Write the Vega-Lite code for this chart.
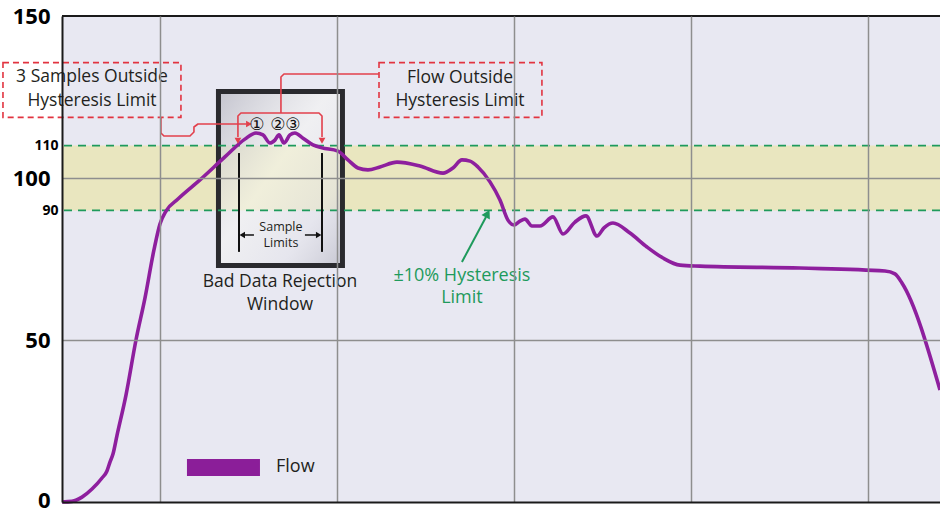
{
  "$schema": "https://vega.github.io/schema/vega-lite/v6.json",
  "width": 878,
  "height": 486,
  "autosize": {"type": "none"},
  "padding": {"left": 62, "top": 16, "right": 0, "bottom": 10},
  "background": "white",
  "config": {
    "view": {"fill": "#E8E8F2", "stroke": null},
    "font": "Open Sans",
    "text": {"font": "Open Sans", "color": "#231F20"}
  },
  "datasets": {
    "flow": [
      {"t": -11.07, "flow": 0}, {"t": -9.94, "flow": 0.2}, {"t": -8.81, "flow": 1.5}, {"t": -7.68, "flow": 4.0},
      {"t": -6.55, "flow": 7.4}, {"t": -6.0, "flow": 9.5}, {"t": -5.65, "flow": 12.3}, {"t": -5.31, "flow": 14.8},
      {"t": -4.86, "flow": 20.5}, {"t": -3.84, "flow": 33.0},
      {"t": -2.71, "flow": 50.0}, {"t": -1.69, "flow": 63.0}, {"t": -0.68, "flow": 77.8}, {"t": 0, "flow": 85.8},
      {"t": 0.68, "flow": 89.8}, {"t": 2.03, "flow": 93.5}, {"t": 4.52, "flow": 99.4}, {"t": 7.34, "flow": 106.5},
      {"t": 9.6, "flow": 112.0}, {"t": 10.85, "flow": 113.9}, {"t": 11.64, "flow": 113.3}, {"t": 12.43, "flow": 110.8},
      {"t": 12.99, "flow": 111.7}, {"t": 13.45, "flow": 113.3}, {"t": 14.01, "flow": 110.8}, {"t": 14.69, "flow": 113.3},
      {"t": 15.25, "flow": 113.9}, {"t": 16.16, "flow": 112.3}, {"t": 17.29, "flow": 110.2}, {"t": 18.31, "flow": 109.3},
      {"t": 20.11, "flow": 108.3}, {"t": 21.24, "flow": 105.6}, {"t": 22.37, "flow": 103.1}, {"t": 23.5, "flow": 102.5},
      {"t": 24.86, "flow": 103.4}, {"t": 26.78, "flow": 104.9}, {"t": 29.38, "flow": 103.7}, {"t": 31.98, "flow": 101.5},
      {"t": 33.11, "flow": 103.1}, {"t": 34.12, "flow": 105.6}, {"t": 35.03, "flow": 105.2}, {"t": 35.93, "flow": 103.4},
      {"t": 37.29, "flow": 98.8}, {"t": 38.42, "flow": 93.2}, {"t": 39.32, "flow": 87.0}, {"t": 40.0, "flow": 85.5},
      {"t": 40.68, "flow": 86.7}, {"t": 41.24, "flow": 87.3}, {"t": 42.03, "flow": 85.2}, {"t": 42.94, "flow": 85.2},
      {"t": 44.41, "flow": 88.0}, {"t": 45.54, "flow": 82.7}, {"t": 46.89, "flow": 86.4}, {"t": 48.14, "flow": 88.3},
      {"t": 49.38, "flow": 82.1}, {"t": 50.17, "flow": 84.6}, {"t": 51.19, "flow": 86.1}, {"t": 53.11, "flow": 83.0},
      {"t": 55.03, "flow": 78.7}, {"t": 56.84, "flow": 75.3}, {"t": 58.76, "flow": 73.1}, {"t": 61.02, "flow": 72.8},
      {"t": 72.32, "flow": 72.2}, {"t": 81.92, "flow": 71.3}, {"t": 83.05, "flow": 70.4}, {"t": 83.84, "flow": 67.6},
      {"t": 88.14, "flow": 34.6}
    ],
    "band": [{"lo": 90, "hi": 110}],
    "limits": [{"level": 90}, {"level": 110}],
    "topEdge": [{"level": 150}],
    "window": [{"x0": 6.61, "x1": 20.62, "y0": 73.0, "y1": 126.7}],
    "sampleLimits": [{"x": 8.93, "y0": 77.2, "y1": 107.7}, {"x": 18.31, "y0": 77.2, "y1": 107.7}],
    "callouts": [
      {"x0": -17.74, "x1": 2.37, "y0": 118.7, "y1": 135.6},
      {"x0": 24.75, "x1": 43.16, "y0": 118.7, "y1": 135.6}
    ],
    "connectors": [
      {"path": "a", "i": 0, "x": 0.11, "y": 118.83}, {"path": "a", "i": 1, "x": 0.11, "y": 113.89},
      {"path": "a", "i": 2, "x": 0.45, "y": 112.96}, {"path": "a", "i": 3, "x": 3.39, "y": 112.96},
      {"path": "a", "i": 4, "x": 3.84, "y": 114.2}, {"path": "a", "i": 5, "x": 3.84, "y": 115.74},
      {"path": "a", "i": 6, "x": 4.29, "y": 116.67}, {"path": "a", "i": 7, "x": 9.72, "y": 116.67},
      {"path": "b", "i": 0, "x": 24.75, "y": 132.1}, {"path": "b", "i": 1, "x": 14.01, "y": 132.1},
      {"path": "b", "i": 2, "x": 13.67, "y": 131.17}, {"path": "b", "i": 3, "x": 13.67, "y": 120.06},
      {"path": "c", "i": 0, "x": 8.81, "y": 112.65}, {"path": "c", "i": 1, "x": 8.81, "y": 119.14},
      {"path": "c", "i": 2, "x": 9.15, "y": 120.06}, {"path": "c", "i": 3, "x": 17.97, "y": 120.06},
      {"path": "c", "i": 4, "x": 18.31, "y": 119.14}, {"path": "c", "i": 5, "x": 18.31, "y": 112.65}
    ],
    "redHeads": [
      {"x": 10.06, "y": 116.67, "heading": 90},
      {"x": 8.81, "y": 111.5, "heading": 180},
      {"x": 18.31, "y": 111.5, "heading": 180}
    ],
    "blackArrows": [
      {"path": "l", "i": 0, "x": 10.62, "y": 82.41}, {"path": "l", "i": 1, "x": 9.38, "y": 82.41},
      {"path": "r", "i": 0, "x": 16.38, "y": 82.41}, {"path": "r", "i": 1, "x": 17.85, "y": 82.41}
    ],
    "blackHeads": [
      {"x": 9.3, "y": 82.41, "heading": 270},
      {"x": 17.93, "y": 82.41, "heading": 90}
    ],
    "greenArrow": [
      {"i": 0, "x": 34.12, "y": 74.07}, {"i": 1, "x": 36.84, "y": 87.96}
    ],
    "greenHead": [{"x": 37.02, "y": 89.0, "heading": 28}],
    "calloutText": [
      {"x": -7.68, "y": 131.17, "text": "3 Samples Outside"},
      {"x": -7.68, "y": 123.77, "text": "Hysteresis Limit"},
      {"x": 33.9, "y": 130.86, "text": "Flow Outside"},
      {"x": 33.9, "y": 123.77, "text": "Hysteresis Limit"},
      {"x": 13.56, "y": 67.9, "text": "Bad Data Rejection"},
      {"x": 13.56, "y": 60.8, "text": "Window"}
    ],
    "sampleText": [
      {"x": 13.67, "y": 84.9, "text": "Sample"},
      {"x": 13.67, "y": 79.9, "text": "Limits"}
    ],
    "circled": [
      {"x": 10.96, "y": 116.36, "text": "①"},
      {"x": 13.33, "y": 116.36, "text": "②"},
      {"x": 15.03, "y": 116.36, "text": "③"}
    ],
    "greenText": [
      {"x": 34.12, "y": 69.75, "text": "±10% Hysteresis"},
      {"x": 34.12, "y": 62.96, "text": "Limit"}
    ],
    "legend": [{"x0": 3.05, "x1": 11.3, "y0": 8.02, "y1": 13.27, "lx": 13.11, "ly": 10.8, "series": "Flow"}]
  },
  "layer": [
    {
      "data": {"name": "band"},
      "mark": {"type": "rect", "color": "#E9E6BF"},
      "encoding": {
        "y": {
          "field": "lo", "type": "quantitative",
          "scale": {"domain": [0, 150], "nice": false, "zero": true},
          "axis": {
            "title": null, "values": [0, 50, 90, 100, 110, 150], "ticks": false,
            "domain": true, "domainColor": "#1A1A1A", "domainWidth": 2,
            "labelFont": "Open Sans", "labelFontWeight": "bold", "labelColor": "#000000",
            "labelFontSize": {"condition": {"test": "datum.value == 90 || datum.value == 110", "value": 14}, "value": 22},
            "labelPadding": {"condition": {"test": "datum.value == 90 || datum.value == 110", "value": 4}, "value": 12},
            "labelOffset": {"condition": {"test": "datum.value == 0", "value": -2}, "value": 0},
            "grid": true, "gridColor": "#8E8E8E", "gridWidth": 1.5,
            "gridOpacity": {"condition": {"test": "datum.value == 50 || datum.value == 100", "value": 1}, "value": 0},
            "zindex": 1
          }
        },
        "y2": {"field": "hi"}
      }
    },
    {
      "data": {"name": "window"},
      "mark": {
        "type": "rect",
        "fill": {
          "gradient": "linear", "x1": 0, "y1": 0, "x2": 1, "y2": 1,
          "stops": [
            {"offset": 0, "color": "rgba(185,185,196,0.78)"},
            {"offset": 0.45, "color": "rgba(246,246,242,0.55)"},
            {"offset": 0.75, "color": "rgba(228,228,234,0.55)"},
            {"offset": 1, "color": "rgba(190,190,202,0.8)"}
          ]
        },
        "stroke": "#2A2A2E",
        "strokeWidth": 5
      },
      "encoding": {
        "x": {
          "field": "x0", "type": "quantitative",
          "scale": {"domain": [-11.07, 88.14], "nice": false, "zero": false},
          "axis": {
            "title": null, "values": [0, 20, 40, 60, 80], "labels": false, "ticks": false,
            "domain": true, "domainColor": "#1A1A1A", "domainWidth": 2.2,
            "grid": true, "gridColor": "#8E8E8E", "gridWidth": 1.5, "zindex": 1
          }
        },
        "x2": {"field": "x1"},
        "y": {"field": "y0", "type": "quantitative"},
        "y2": {"field": "y1"}
      }
    },
    {
      "data": {"name": "limits"},
      "mark": {"type": "rule", "color": "#1E9A5C", "strokeWidth": 1.6, "strokeDash": [8, 6]},
      "encoding": {"y": {"field": "level", "type": "quantitative"}}
    },
    {
      "data": {"name": "sampleLimits"},
      "mark": {"type": "rule", "color": "#111111", "strokeWidth": 2},
      "encoding": {
        "x": {"field": "x", "type": "quantitative"},
        "y": {"field": "y0", "type": "quantitative"},
        "y2": {"field": "y1"}
      }
    },
    {
      "data": {"name": "flow"},
      "mark": {"type": "line", "color": "#8E1F9E", "strokeWidth": 3.6, "interpolate": "monotone"},
      "encoding": {
        "x": {"field": "t", "type": "quantitative"},
        "y": {"field": "flow", "type": "quantitative"}
      }
    },
    {
      "data": {"name": "topEdge"},
      "mark": {"type": "rule", "color": "#1A1A1A", "strokeWidth": 2.2},
      "encoding": {"y": {"field": "level", "type": "quantitative"}}
    },
    {
      "data": {"name": "callouts"},
      "mark": {"type": "rect", "fill": null, "fillOpacity": 0, "stroke": "#E23440", "strokeWidth": 1.6, "strokeDash": [6, 4]},
      "encoding": {
        "x": {"field": "x0", "type": "quantitative"},
        "x2": {"field": "x1"},
        "y": {"field": "y0", "type": "quantitative"},
        "y2": {"field": "y1"}
      }
    },
    {
      "data": {"name": "connectors"},
      "mark": {"type": "line", "color": "#E2404C", "strokeWidth": 1.6, "strokeJoin": "round"},
      "encoding": {
        "x": {"field": "x", "type": "quantitative"},
        "y": {"field": "y", "type": "quantitative"},
        "detail": {"field": "path", "type": "nominal"},
        "order": {"field": "i", "type": "quantitative"}
      }
    },
    {
      "data": {"name": "redHeads"},
      "mark": {"type": "point", "shape": "triangle-up", "filled": true, "color": "#E2404C", "size": 45, "opacity": 1},
      "encoding": {
        "x": {"field": "x", "type": "quantitative"},
        "y": {"field": "y", "type": "quantitative"},
        "angle": {"field": "heading", "type": "quantitative", "scale": {"domain": [0, 360], "range": [0, 360]}}
      }
    },
    {
      "data": {"name": "blackArrows"},
      "mark": {"type": "line", "color": "#111111", "strokeWidth": 1.5},
      "encoding": {
        "x": {"field": "x", "type": "quantitative"},
        "y": {"field": "y", "type": "quantitative"},
        "detail": {"field": "path", "type": "nominal"},
        "order": {"field": "i", "type": "quantitative"}
      }
    },
    {
      "data": {"name": "blackHeads"},
      "mark": {"type": "point", "shape": "triangle-up", "filled": true, "color": "#111111", "size": 40, "opacity": 1},
      "encoding": {
        "x": {"field": "x", "type": "quantitative"},
        "y": {"field": "y", "type": "quantitative"},
        "angle": {"field": "heading", "type": "quantitative", "scale": {"domain": [0, 360], "range": [0, 360]}}
      }
    },
    {
      "data": {"name": "greenArrow"},
      "mark": {"type": "line", "color": "#1E9A5C", "strokeWidth": 2},
      "encoding": {
        "x": {"field": "x", "type": "quantitative"},
        "y": {"field": "y", "type": "quantitative"},
        "order": {"field": "i", "type": "quantitative"}
      }
    },
    {
      "data": {"name": "greenHead"},
      "mark": {"type": "point", "shape": "triangle-up", "filled": true, "color": "#1E9A5C", "size": 90, "opacity": 1},
      "encoding": {
        "x": {"field": "x", "type": "quantitative"},
        "y": {"field": "y", "type": "quantitative"},
        "angle": {"field": "heading", "type": "quantitative", "scale": {"domain": [0, 360], "range": [0, 360]}}
      }
    },
    {
      "data": {"name": "calloutText"},
      "mark": {"type": "text", "fontSize": 17.5, "align": "center", "baseline": "middle", "color": "#231F20"},
      "encoding": {
        "x": {"field": "x", "type": "quantitative"},
        "y": {"field": "y", "type": "quantitative"},
        "text": {"field": "text"}
      }
    },
    {
      "data": {"name": "sampleText"},
      "mark": {"type": "text", "fontSize": 12.5, "align": "center", "baseline": "middle", "color": "#231F20"},
      "encoding": {
        "x": {"field": "x", "type": "quantitative"},
        "y": {"field": "y", "type": "quantitative"},
        "text": {"field": "text"}
      }
    },
    {
      "data": {"name": "circled"},
      "mark": {"type": "text", "font": "DejaVu Sans", "fontSize": 17, "align": "center", "baseline": "middle", "color": "#111111"},
      "encoding": {
        "x": {"field": "x", "type": "quantitative"},
        "y": {"field": "y", "type": "quantitative"},
        "text": {"field": "text"}
      }
    },
    {
      "data": {"name": "greenText"},
      "mark": {"type": "text", "fontSize": 18, "align": "center", "baseline": "middle", "color": "#1E9A5C"},
      "encoding": {
        "x": {"field": "x", "type": "quantitative"},
        "y": {"field": "y", "type": "quantitative"},
        "text": {"field": "text"}
      }
    },
    {
      "data": {"name": "legend"},
      "mark": {"type": "rect", "color": "#8B1E99"},
      "encoding": {
        "x": {"field": "x0", "type": "quantitative"},
        "x2": {"field": "x1"},
        "y": {"field": "y0", "type": "quantitative"},
        "y2": {"field": "y1"}
      }
    },
    {
      "data": {"name": "legend"},
      "mark": {"type": "text", "fontSize": 18, "align": "left", "baseline": "middle", "color": "#231F20"},
      "encoding": {
        "x": {"field": "lx", "type": "quantitative"},
        "y": {"field": "ly", "type": "quantitative"},
        "text": {"field": "series"}
      }
    }
  ]
}
